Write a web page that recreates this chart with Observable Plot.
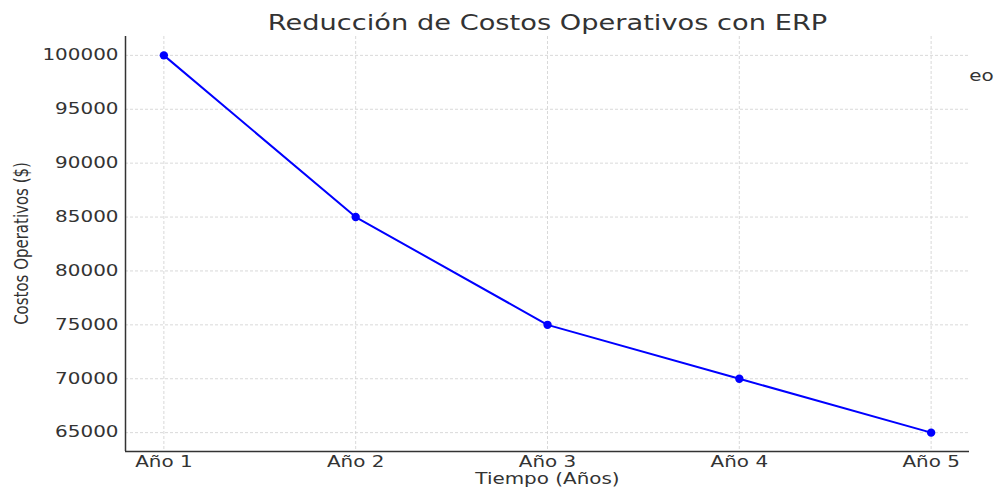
<!DOCTYPE html>
<html>
<head>
<meta charset="utf-8">
<script src="https://cdn.jsdelivr.net/npm/d3@7"></script>
<script src="https://cdn.jsdelivr.net/npm/@observablehq/plot@0.6"></script>
<style>
  html, body { margin: 0; padding: 0; background: #fff; }
  #chart { position: relative; width: 1003px; height: 489px; }
</style>
</head>
<body>
<div id="chart"></div>
<script>
// Operating costs per year after ERP adoption
const years = ["Año 1", "Año 2", "Año 3", "Año 4", "Año 5"];
const costs = [100000, 85000, 75000, 70000, 65000];
const yTicks = [65000, 70000, 75000, 80000, 85000, 90000, 95000, 100000];

const title = "Reducción de Costos Operativos con ERP";
const xLabel = "Tiempo (Años)";
const yLabel = "Costos Operativos ($)";
const legendFragment = "eo";

const data = years.map((year, i) => ({index: i + 1, year, cost: costs[i]}));
const xIdx = data.map(d => d.index);

const ink = "#333";
const gridStyle = {stroke: "#cfcfcf", strokeOpacity: 1, strokeWidth: 0.8, strokeDasharray: "3,2"};

const W = 1003, H = 489;
const M = {left: 125, right: 34, top: 36, bottom: 38};

const chart = Plot.plot({
  width: W,
  height: H,
  marginLeft: M.left,
  marginRight: M.right,
  marginTop: M.top,
  marginBottom: M.bottom,
  style: {fontFamily: "DejaVu Sans", background: "#fff", color: ink},
  x: {domain: [0.8, 5.2], label: null},
  y: {domain: [63250, 101750], label: null},
  marks: [
    Plot.gridY(yTicks, gridStyle),
    Plot.gridX(xIdx, gridStyle),
    Plot.ruleY([63250], {stroke: ink, strokeWidth: 1.5}),
    Plot.ruleX([0.8], {stroke: ink, strokeWidth: 1.5}),
    Plot.line(data, {x: "index", y: "cost", stroke: "#0000ff", strokeWidth: 2}),
    Plot.dot(data, {x: "index", y: "cost", fill: "#0000ff", r: 4.2}),
    Plot.axisX(xIdx, {tickFormat: i => years[i - 1], tickSize: 0, tickPadding: 5, fontSize: 15, fill: ink, label: null}),
    Plot.axisY(yTicks, {tickFormat: d3.format("d"), tickSize: 0, tickPadding: 7, fontSize: 15, fill: ink, label: null}),
    Plot.text([title], {frameAnchor: "top", lineAnchor: "middle", dy: -13, fontSize: 20.5, fill: ink}),
    Plot.text([xLabel], {frameAnchor: "bottom", lineAnchor: "middle", dy: 28, fontSize: 15, fill: ink}),
    Plot.text([legendFragment], {frameAnchor: "top-right", lineAnchor: "middle", textAnchor: "middle", dx: 12, dy: 40, fontSize: 15, fill: ink})
  ]
});

document.getElementById("chart").appendChild(chart);

// Widen glyphs horizontally around each label's anchor
const stretch = 1.33;
chart.querySelectorAll("text").forEach(t => {
  const prev = t.getAttribute("transform") || "";
  const cx = +(t.getAttribute("x") || 0);
  const extra = ` translate(${cx},0) scale(${stretch},1) translate(${-cx},0)`;
  t.setAttribute("transform", (prev + extra).trim());
});

// Vertical axis title, rotated and widened across the screen
const yTitleX = M.left - 104;
const yTitleY = (M.top + (H - M.bottom)) / 2;
d3.select(chart).append("text")
  .attr("transform", `translate(${yTitleX},${yTitleY}) rotate(-90) scale(1,${stretch})`)
  .attr("text-anchor", "middle")
  .attr("dy", "0.35em")
  .attr("font-family", "DejaVu Sans")
  .attr("font-size", 15)
  .attr("fill", ink)
  .text(yLabel);
</script>
</body>
</html>
